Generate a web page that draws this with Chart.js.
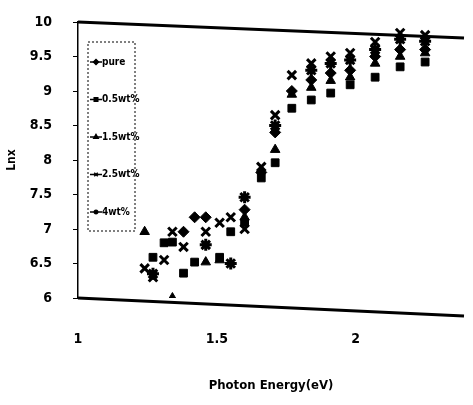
<!DOCTYPE html>
<html>
<head>
<meta charset="utf-8">
<script src="https://cdn.jsdelivr.net/npm/chart.js@4/dist/chart.umd.min.js"></script>
<style>
  html, body { margin: 0; padding: 0; background: #fff; }
</style>
</head>
<body>
<canvas id="lnx-chart" width="473" height="405"></canvas>
<script>
// photon energy (eV) of each measurement column
const energy = [1.24, 1.27, 1.31, 1.34, 1.38, 1.42, 1.46, 1.51, 1.55, 1.60, 1.66, 1.71, 1.77, 1.84, 1.91, 1.98, 2.07, 2.16, 2.25];

// Lnx values per sample, null where no point shows
const pure   = [null, null, null, null, 6.96, 7.17, 7.17, null, null, 7.28, 7.82, 8.40, 9.00, 9.16, 9.26, 9.30, 9.50, 9.60, 9.60];
const wt05   = [null, 6.59, 6.80, 6.81, 6.36, 6.52, null, 6.59, 6.96, 7.09, 7.74, 7.96, 8.75, 8.87, 8.97, 9.09, 9.20, 9.35, 9.42];
const wt15   = [6.96, null, null, 6.00, null, null, 6.52, 6.55, null, 7.17, null, 8.15, 8.95, 9.05, 9.15, 9.20, 9.40, 9.50, 9.55];
const wt25   = [6.43, 6.30, 6.55, 6.96, 6.74, null, 6.96, 7.09, 7.17, 7.00, 7.90, 8.65, 9.23, 9.40, 9.50, 9.55, 9.71, 9.84, 9.81];
const wt4    = [null, 6.35, null, null, null, null, 6.77, null, 6.50, 7.46, null, 8.50, null, 9.30, 9.40, 9.45, 9.60, 9.75, 9.72];

const seriesLabels = ['pure', '0.5wt%', '1.5wt%', '2.5wt%', '4wt%'];
const yTicks = [6, 6.5, 7, 7.5, 8, 8.5, 9, 9.5, 10];
const xTicks = [1, 1.5, 2];

const FONT = '"Liberation Sans Narrow", "DejaVu Sans Condensed", Arial, sans-serif';

function toPoints(values) {
  return energy
    .map((x, i) => ({ x: x, y: values[i] }))
    .filter(p => p.y !== null);
}

const shapes = ['rectRot', 'rect', 'triangle', 'crossRot', 'star'];
const allSeries = [pure, wt05, wt15, wt25, wt4];

const datasets = allSeries.map((values, i) => {
  const thin = shapes[i] === 'crossRot' || shapes[i] === 'star';
  return {
    label: seriesLabels[i],
    data: toPoints(values),
    pointStyle: shapes[i],
    pointRadius: thin ? 6 : 5.5,
    pointBorderWidth: thin ? 3 : 1,
    backgroundColor: '#000',
    borderColor: '#000',
    showLine: false
  };
});

// scanned figure: thick slanted frame lines and dashed legend box inside the plot
const framePlugin = {
  id: 'frame',
  afterDraw(chart) {
    const { ctx, chartArea: a } = chart;
    ctx.save();
    ctx.strokeStyle = '#000';
    ctx.lineWidth = 3;
    ctx.beginPath();
    ctx.moveTo(a.left, a.top);
    ctx.lineTo(a.right, a.top + 16);
    ctx.stroke();
    ctx.beginPath();
    ctx.moveTo(a.left, a.bottom);
    ctx.lineTo(a.right, a.bottom + 18);
    ctx.stroke();

    // legend
    const bx = a.left + 10, by = a.top + 20, bw = 47, bh = 189;
    ctx.lineWidth = 1;
    ctx.setLineDash([2, 2]);
    ctx.strokeRect(bx, by, bw, bh);
    ctx.setLineDash([]);
    ctx.font = 'bold 10px ' + FONT;
    ctx.fillStyle = '#000';
    ctx.textBaseline = 'middle';
    chart.data.datasets.forEach((ds, i) => {
      const y = by + 20 + i * 37.5;
      ctx.lineWidth = 1.5;
      ctx.beginPath();
      ctx.moveTo(bx + 2, y);
      ctx.lineTo(bx + 14, y);
      ctx.stroke();
      Chart.helpers.drawPoint(ctx, { pointStyle: ds.pointStyle, radius: 2.5, borderWidth: 1.5 }, bx + 8, y);
      ctx.fill();
      ctx.fillText(ds.label, bx + 14, y);
    });
    ctx.restore();
  }
};

const keepTicks = list => scale => {
  scale.ticks = list.map(v => ({ value: v }));
};

const ctx = document.getElementById('lnx-chart').getContext('2d');
new Chart(ctx, {
  type: 'scatter',
  data: { datasets: datasets },
  options: {
    responsive: false,
    animation: false,
    layout: { padding: { top: 22, right: 0, left: 0, bottom: 0 } },
    plugins: { legend: { display: false }, tooltip: { enabled: false } },
    scales: {
      x: {
        type: 'linear',
        min: 1,
        max: 2.39,
        afterBuildTicks: keepTicks(xTicks),
        afterFit: scale => {
          scale.height = 107;
          scale.paddingLeft = 0;
          scale.paddingRight = 0;
        },
        border: { display: false },
        grid: { drawOnChartArea: false, drawTicks: false },
        ticks: {
          padding: 33,
          color: '#000',
          font: { family: FONT, size: 14, weight: 'bold' },
          callback: v => String(v)
        },
        title: {
          display: true,
          text: 'Photon Energy(eV)',
          color: '#000',
          font: { family: FONT, size: 13, weight: 'bold' },
          padding: { top: 0, bottom: 12 }
        }
      },
      y: {
        min: 6,
        max: 10,
        afterBuildTicks: keepTicks(yTicks),
        afterFit: scale => {
          scale.width = 78;
          scale.paddingTop = 0;
          scale.paddingBottom = 0;
        },
        border: { display: true, color: '#000', width: 1.5 },
        grid: { drawOnChartArea: false, drawTicks: true, tickLength: 5, color: '#000' },
        ticks: {
          padding: 21,
          color: '#000',
          font: { family: FONT, size: 14, weight: 'bold' },
          callback: v => String(v)
        },
        title: {
          display: true,
          text: 'Lnx',
          color: '#000',
          font: { family: FONT, size: 12, weight: 'bold' },
          padding: { top: 5, bottom: 0 }
        }
      }
    }
  },
  plugins: [framePlugin]
});
</script>
</body>
</html>
